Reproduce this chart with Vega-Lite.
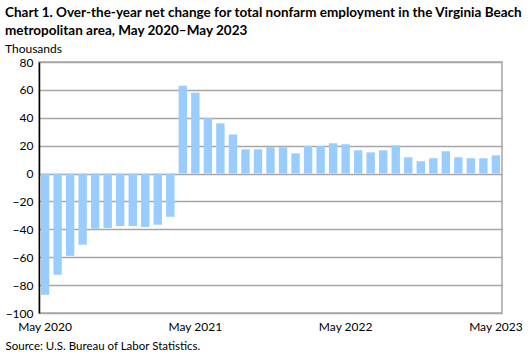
{
  "$schema": "https://vega.github.io/schema/vega-lite/v6.json",
  "width": 463,
  "height": 251,
  "autosize": "none",
  "padding": {"left": 39, "top": 62, "right": 29, "bottom": 42},
  "background": "white",
  "config": {
    "font": "Lato",
    "view": {"stroke": "#a6a6a6", "strokeWidth": 1.5}
  },
  "title": {
    "text": ["Chart 1.  Over-the-year net change for total nonfarm employment in the Virginia Beach", "metropolitan area, May 2020\u2013May  2023"],
    "subtitle": "Thousands",
    "anchor": "start",
    "frame": "group",
    "dx": -34,
    "offset": 1,
    "font": "Lato",
    "fontSize": 13.5,
    "fontWeight": "bold",
    "color": "black",
    "lineHeight": 18,
    "subtitleFont": "Lato",
    "subtitleFontSize": 12,
    "subtitleColor": "black",
    "subtitlePadding": 7
  },
  "data": {
    "values": [
      {"month": "May 2020", "value": -87},
      {"month": "Jun 2020", "value": -72.6},
      {"month": "Jul 2020", "value": -59},
      {"month": "Aug 2020", "value": -51},
      {"month": "Sep 2020", "value": -39.5},
      {"month": "Oct 2020", "value": -39},
      {"month": "Nov 2020", "value": -37.6},
      {"month": "Dec 2020", "value": -37.6},
      {"month": "Jan 2021", "value": -38.3},
      {"month": "Feb 2021", "value": -36.7},
      {"month": "Mar 2021", "value": -31},
      {"month": "Apr 2021", "value": 63},
      {"month": "May 2021", "value": 58},
      {"month": "Jun 2021", "value": 40},
      {"month": "Jul 2021", "value": 36},
      {"month": "Aug 2021", "value": 28},
      {"month": "Sep 2021", "value": 17.4},
      {"month": "Oct 2021", "value": 17.4},
      {"month": "Nov 2021", "value": 18.8},
      {"month": "Dec 2021", "value": 18.8},
      {"month": "Jan 2022", "value": 14.5},
      {"month": "Feb 2022", "value": 19.8},
      {"month": "Mar 2022", "value": 19.8},
      {"month": "Apr 2022", "value": 21.7},
      {"month": "May 2022", "value": 21},
      {"month": "Jun 2022", "value": 16.7},
      {"month": "Jul 2022", "value": 15.2},
      {"month": "Aug 2022", "value": 16.7},
      {"month": "Sep 2022", "value": 20.2},
      {"month": "Oct 2022", "value": 11.7},
      {"month": "Nov 2022", "value": 8.8},
      {"month": "Dec 2022", "value": 11},
      {"month": "Jan 2023", "value": 16},
      {"month": "Feb 2023", "value": 11.7},
      {"month": "Mar 2023", "value": 11},
      {"month": "Apr 2023", "value": 11},
      {"month": "May 2023", "value": 13.1}
    ]
  },
  "encoding": {
    "x": {
      "field": "month",
      "type": "ordinal",
      "sort": null,
      "scale": {"paddingInner": 0.33, "paddingOuter": 0.15},
      "axis": {
        "values": ["May 2020", "May 2021", "May 2022", "May 2023"],
        "labelAngle": 0,
        "labelFont": "Lato",
        "labelFontSize": 12,
        "labelColor": "black",
        "labelPadding": 8,
        "labelOverlap": false,
        "ticks": false,
        "domain": false,
        "title": "Source: U.S. Bureau of Labor Statistics.",
        "titleFont": "Lato",
        "titleFontSize": 11.5,
        "titleFontWeight": "normal",
        "titleColor": "black",
        "titleAnchor": "start",
        "titleAlign": "left",
        "titleBaseline": "alphabetic",
        "titleX": -34,
        "titleY": 36
      }
    }
  },
  "layer": [
    {
      "mark": {"type": "bar", "color": "#99ccff"},
      "encoding": {
        "y": {
          "field": "value",
          "type": "quantitative",
          "scale": {"domain": [-100, 80], "nice": false, "zero": false},
          "axis": {
            "values": [-100, -80, -60, -40, -20, 0, 20, 40, 60, 80],
            "tickCount": 10,
            "title": null,
            "labelFont": "Lato",
            "labelFontSize": 12,
            "labelColor": "black",
            "labelPadding": 6,
            "labelOverlap": false,
            "labelBound": false,
            "labelFlush": false,
            "ticks": false,
            "domainColor": "black",
            "domainWidth": 1.5,
            "gridColor": "#a6a6a6",
            "gridWidth": 1.5
          }
        }
      }
    },
    {
      "mark": {"type": "rule", "color": "black", "strokeWidth": 1.5},
      "encoding": {"y": {"datum": 0}}
    }
  ]
}
